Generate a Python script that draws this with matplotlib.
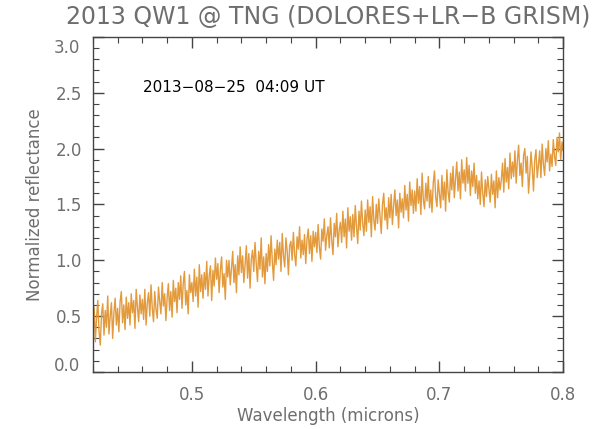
"""Reflectance spectrum of 2013 QW1 (TNG / DOLORES LR-B)."""
import numpy as np
import matplotlib
matplotlib.use("Agg")
import matplotlib.pyplot as plt
from matplotlib.ticker import MultipleLocator, FuncFormatter

# wavelength grid start/step (microns) and normalized reflectance
wl_start, wl_step = 0.42, 0.001
reflectance = [
    0.38, 0.58, 0.27, 0.49, 0.64, 0.36, 0.24, 0.52, 0.61, 0.33,
    0.55, 0.40, 0.68, 0.34, 0.50, 0.62, 0.30, 0.53, 0.66, 0.42,
    0.57, 0.36, 0.63, 0.72, 0.44, 0.60, 0.38, 0.67, 0.48, 0.62,
    0.42, 0.70, 0.53, 0.64, 0.39, 0.74, 0.58, 0.45, 0.69, 0.52,
    0.65, 0.47, 0.74, 0.42, 0.62, 0.71, 0.50, 0.78, 0.57, 0.45,
    0.72, 0.56, 0.48, 0.76, 0.63, 0.52, 0.80, 0.59, 0.70, 0.46,
    0.66, 0.79, 0.55, 0.72, 0.49, 0.82, 0.63, 0.75, 0.53, 0.80,
    0.65, 0.86, 0.57, 0.79, 0.90, 0.60, 0.73, 0.52, 0.87, 0.71,
    0.80, 0.63, 0.92, 0.68, 0.85, 0.58, 0.96, 0.72, 0.87, 0.66,
    0.89, 0.74, 0.99, 0.68, 0.86, 0.95, 0.64, 0.91, 0.77, 1.02,
    0.83, 0.97, 0.71, 0.91, 1.03, 0.76, 0.88, 0.65, 1.00, 0.85,
    1.00, 0.78, 0.93, 1.08, 0.80, 0.96, 0.71, 1.04, 0.87, 1.12,
    0.89, 1.04, 0.80, 0.97, 1.13, 0.84, 1.06, 0.75, 1.01, 1.09,
    0.90, 1.16, 0.97, 0.81, 1.08, 0.92, 1.20, 0.85, 1.03, 0.79,
    1.06, 0.90, 1.14, 0.95, 1.22, 0.99, 0.82, 1.10, 0.96, 1.18,
    1.01, 1.16, 0.90, 1.24, 1.04, 0.94, 1.20, 1.08, 0.87, 1.13,
    1.17, 1.00, 1.25, 1.05, 0.95, 1.21, 1.10, 1.30, 1.02, 1.18,
    1.05, 1.23, 0.97, 1.19, 1.28, 1.06, 1.22, 0.99, 1.26, 1.12,
    1.25, 1.07, 1.32, 1.12, 1.01, 1.28, 1.17, 1.37, 1.09, 1.22,
    1.30, 1.11, 1.38, 1.18, 1.05, 1.33, 1.21, 1.42, 1.12, 1.27,
    1.34, 1.16, 1.44, 1.21, 1.37, 1.11, 1.47, 1.26, 1.39, 1.18,
    1.41, 1.21, 1.49, 1.30, 1.15, 1.44, 1.27, 1.53, 1.33, 1.22,
    1.45, 1.26, 1.54, 1.34, 1.48, 1.21, 1.57, 1.36, 1.27, 1.50,
    1.33, 1.55, 1.39, 1.24, 1.50, 1.60, 1.36, 1.47, 1.28, 1.56,
    1.38, 1.59, 1.32, 1.49, 1.63, 1.40, 1.54, 1.29, 1.60, 1.43,
    1.55, 1.38, 1.67, 1.45, 1.59, 1.35, 1.70, 1.49, 1.63, 1.42,
    1.62, 1.44, 1.73, 1.51, 1.66, 1.41, 1.78, 1.54, 1.46, 1.69,
    1.53, 1.75, 1.47, 1.63, 1.43, 1.69, 1.80, 1.56, 1.48, 1.72,
    1.60, 1.47, 1.76, 1.54, 1.70, 1.44, 1.81, 1.61, 1.52, 1.78,
    1.63, 1.84, 1.56, 1.73, 1.88, 1.62, 1.79, 1.55, 1.90, 1.69,
    1.81, 1.62, 1.92, 1.69, 1.85, 1.58, 1.80, 1.66, 1.87, 1.60,
    1.76, 1.55, 1.71, 1.50, 1.79, 1.60, 1.48, 1.72, 1.57, 1.75,
    1.64, 1.52, 1.77, 1.59, 1.71, 1.47, 1.80, 1.56, 1.74, 1.63,
    1.72, 1.87, 1.61, 1.91, 1.70, 1.83, 1.64, 1.96, 1.73, 1.88,
    1.75, 1.98, 1.69, 1.90, 2.03, 1.76, 1.87, 1.66, 1.94, 2.00,
    1.78, 1.93, 1.60, 1.77, 1.97, 1.82, 1.62, 1.90, 1.99, 1.74,
    1.85, 1.98, 1.74, 2.04, 1.86, 1.76, 2.00, 1.88, 2.07, 1.80,
    1.95, 1.84, 2.08, 1.93, 1.85, 2.10, 1.97, 2.14, 1.90, 2.06,
    1.98,
]
wavelength = wl_start + wl_step * np.arange(len(reflectance))

title = "2013 QW1 @ TNG (DOLORES+LR\u2212B GRISM)"
note = "2013\u221208\u221225  04:09 UT"
xticks = [0.5, 0.6, 0.7, 0.8]
ylim = (0.0, 3.0)

gray = "#6e6e6e"
fig = plt.figure(figsize=(6.03, 4.29), dpi=100)
ax = fig.add_axes([0.154, 0.133, 0.780, 0.781])
ax.plot(wavelength, reflectance, color="#e39a3c", lw=1.0)

ax.set_xlim(0.42, 0.8); ax.set_ylim(*ylim)
ax.set_xticks(xticks)
ax.xaxis.set_minor_locator(MultipleLocator(0.02))
ax.yaxis.set_major_locator(MultipleLocator(0.5))
ax.yaxis.set_minor_locator(MultipleLocator(0.1))
ax.xaxis.set_major_formatter(plt.FormatStrFormatter("%.1f"))
# end labels are drawn separately, nudged inside like the original
ax.yaxis.set_major_formatter(FuncFormatter(
    lambda v, p: "" if abs(v - ylim[0]) < 1e-6 or abs(v - ylim[1]) < 1e-6 else f"{v:.1f}"))
ax.tick_params(which="both", direction="in", top=True, right=True, color="#444444",
               labelcolor=gray, labelsize=12)
ax.tick_params(which="major", length=8, width=1)
ax.tick_params(which="minor", length=4, width=0.8)
ax.tick_params(axis="x", pad=10); ax.tick_params(axis="y", pad=8)
for s in ax.spines.values():
    s.set_color("#444444"); s.set_linewidth(1.0)
ax.text(-0.027, 0.018, f"{ylim[0]:.1f}", transform=ax.transAxes, ha="right", va="center",
        color=gray, fontsize=12)
ax.text(-0.027, 0.968, f"{ylim[1]:.1f}", transform=ax.transAxes, ha="right", va="center",
        color=gray, fontsize=12)

ax.set_xlabel("Wavelength (microns)", color=gray, fontsize=12, labelpad=2)
ax.set_ylabel("Normalized reflectance", color=gray, fontsize=12, labelpad=8)
ax.set_title(title, color=gray, fontsize=17, pad=9)
ax.text(0.106, 0.848, note, transform=ax.transAxes, fontsize=11, color="black",
        va="center", ha="left")

fig.savefig("out.png", dpi=100)
